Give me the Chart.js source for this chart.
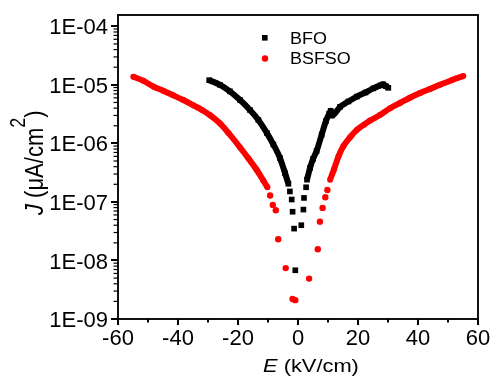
<!DOCTYPE html>
<html>
<head>
<meta charset="utf-8">
<script src="https://cdn.jsdelivr.net/npm/chart.js@4.4.1/dist/chart.umd.min.js"></script>
<style>
html,body{margin:0;padding:0;background:#fff;overflow:hidden;}
canvas{display:block;}
</style>
</head>
<body>
<canvas id="c" width="492" height="378" style="width:492px;height:378px"></canvas>
<script>
// ---- data (E in kV/cm, J in uA/cm^2) ----
// BFO: continuous branches
const bfoLeftE  = [-29.6, -26.0, -22.7, -19.3, -16.0, -13.2, -10.4, -8.2, -6.0, -4.3, -3.2];
const bfoLeftJ  = [1.20e-5, 1.0e-5, 7.76e-6, 5.5e-6, 3.72e-6, 2.51e-6, 1.51e-6, 9.55e-7, 5.62e-7, 3.09e-7, 2.04e-7];
const bfoRightE = [3.0, 4.0, 5.0, 6.2, 7.9, 9.3, 10.4, 10.9, 11.4, 14.0, 16.8, 19.6, 22.5, 25.1, 27.5, 28.4, 29.3, 30.1];
const bfoRightJ = [2.4e-7, 3.8e-7, 5.4e-7, 7.4e-7, 1.41e-6, 2.4e-6, 3.2e-6, 3.6e-6, 3.0e-6, 4.2e-6, 5.2e-6, 6.3e-6, 7.4e-6, 8.7e-6, 9.8e-6, 1.02e-5, 9.5e-6, 8.9e-6];
// BFO: isolated points near zero field
const bfoCenterE = [-2.7, -2.1, -1.8, -1.3, -0.9, 1.1, 1.8, 2.0, 2.7];
const bfoCenterJ = [1.51e-7, 1.10e-7, 6.8e-8, 3.5e-8, 6.8e-9, 4.0e-8, 7.4e-8, 1.17e-7, 1.78e-7];

// BSFSO: continuous branches
const bsLeftE  = [-54.9, -51.5, -48.2, -44.9, -41.6, -38.2, -34.9, -32.0, -29.3, -26.0, -23.2, -19.3, -16.5, -13.8, -11.6, -10.2];
const bsLeftJ  = [1.38e-5, 1.17e-5, 9.33e-6, 7.94e-6, 6.61e-6, 5.50e-6, 4.47e-6, 3.72e-6, 3.02e-6, 2.19e-6, 1.51e-6, 8.51e-7, 5.50e-7, 3.55e-7, 2.34e-7, 1.78e-7];
const bsRightE = [10.7, 12.0, 13.5, 15.1, 17.3, 19.6, 22.0, 24.0, 27.3, 30.7, 34.0, 37.3, 40.7, 44.0, 47.3, 51.2, 55.1];
const bsRightJ = [2.4e-7, 3.6e-7, 6.0e-7, 8.9e-7, 1.26e-6, 1.70e-6, 2.09e-6, 2.45e-6, 3.05e-6, 3.98e-6, 4.90e-6, 6.03e-6, 7.24e-6, 8.51e-6, 1.0e-5, 1.20e-5, 1.41e-5];
// BSFSO: isolated points near zero field
const bsCenterE = [-9.3, -8.4, -7.4, -6.6, -4.1, -1.8, -0.9, 3.7, 6.6, 7.3, 8.2, 9.1, 9.8];
const bsCenterJ = [1.29e-7, 8.9e-8, 7.2e-8, 2.3e-8, 7.4e-9, 2.2e-9, 2.1e-9, 4.9e-9, 1.55e-8, 4.6e-8, 7.9e-8, 1.2e-7, 1.6e-7];

// ---- axes ----
const xMin = -60, xMax = 60, xStep = 20;
const xMinorTicks = [-50, -30, -10, 10, 30, 50];
const yMin = 1e-9, yMax = 1.56e-4;
const yTickValues = [1e-9, 1e-8, 1e-7, 1e-6, 1e-5, 1e-4];
const yTickLabels = ['1E-09', '1E-08', '1E-07', '1E-06', '1E-05', '1E-04'];
const seriesNames = ['BFO', 'BSFSO'];

const pts = (xs, ys) => xs.map((v, i) => ({x: v, y: ys[i]}));
const FONT = 'Liberation Sans, Arial, sans-serif';

function band(xs, ys, color, style, r) {
  return {
    data: pts(xs, ys), showLine: true, borderColor: color, borderWidth: 6,
    cubicInterpolationMode: 'monotone',
    pointStyle: style, pointRadius: r, pointBackgroundColor: color, pointBorderWidth: 0
  };
}
function dots(xs, ys, color, style, r) {
  return {
    data: pts(xs, ys), showLine: false,
    pointStyle: style, pointRadius: r, pointBackgroundColor: color, pointBorderWidth: 0, borderColor: color
  };
}

// frame: black box behind a white chart area, drawn before the datasets
const frame = {
  id: 'frame',
  beforeDatasetsDraw(chart) {
    const ctx = chart.ctx, a = chart.chartArea;
    const L = Math.round(a.left), T = Math.round(a.top), R = Math.round(a.right), B = Math.round(a.bottom);
    ctx.save();
    ctx.fillStyle = '#111111';
    ctx.fillRect(L - 1, T - 1, R - L + 2, B - T + 2);
    ctx.fillStyle = '#ffffff';
    ctx.fillRect(L + 1, T + 1, R - L - 2, B - T - 2);
    ctx.restore();
  }
};

const decor = {
  id: 'decor',
  afterDraw(chart) {
    const ctx = chart.ctx, a = chart.chartArea, xs = chart.scales.x, ys = chart.scales.y;
    const L = Math.round(a.left), B = Math.round(a.bottom);
    ctx.save();
    ctx.fillStyle = '#000';
    // x ticks
    for (let v = xMin; v <= xMax; v += xStep) { const p = Math.round(xs.getPixelForValue(v)); ctx.fillRect(p - 1, B, 2, 6); }
    xMinorTicks.forEach(v => { const p = Math.round(xs.getPixelForValue(v)); ctx.fillRect(p - 1, B, 2, 3.5); });
    // y ticks
    yTickValues.forEach(v => { const p = Math.round(ys.getPixelForValue(v)); ctx.fillRect(L - 7, p - 1, 7, 2); });
    yTickValues.forEach(d => {
      for (let k = 2; k <= 9; k++) {
        const v = d * k; if (v > yMax) continue;
        const p = ys.getPixelForValue(v); ctx.fillRect(L - 4.5, p - 0.6, 4.5, 1.2);
      }
    });
    ctx.textBaseline = 'alphabetic';
    ctx.textAlign = 'left';
    // x title
    ctx.save();
    ctx.translate(263, 371.5);
    ctx.scale(1.15, 1);
    ctx.font = 'italic 19px ' + FONT;
    ctx.fillText('E', 0, 0);
    let w = ctx.measureText('E').width;
    ctx.font = '19px ' + FONT;
    ctx.fillText(' (kV/cm)', w, 0);
    ctx.restore();
    // y title
    ctx.save();
    ctx.translate(43, 215);
    ctx.rotate(-Math.PI / 2);
    ctx.scale(1, 1.2);
    ctx.font = 'italic 22px ' + FONT;
    ctx.fillText('J', 0, 0);
    let off = ctx.measureText('J').width;
    ctx.font = '22px ' + FONT;
    ctx.fillText(' (\u03BCA/cm', off, 0);
    off += ctx.measureText(' (\u03BCA/cm').width;
    ctx.font = '18px ' + FONT;
    ctx.fillText('2', off, -15);
    off += ctx.measureText('2').width;
    ctx.font = '22px ' + FONT;
    ctx.fillText(')', off, 0);
    ctx.restore();
    // legend
    ctx.fillStyle = '#000';
    ctx.fillRect(262, 35, 5.6, 5.6);
    ctx.fillStyle = '#ff0000';
    ctx.beginPath(); ctx.arc(265, 58.5, 3.2, 0, Math.PI * 2); ctx.fill();
    ctx.fillStyle = '#000';
    ctx.font = '16px ' + FONT;
    ctx.save(); ctx.translate(290, 44); ctx.scale(1.12, 1); ctx.fillText(seriesNames[0], 0, 0); ctx.restore();
    ctx.save(); ctx.translate(290, 64.3); ctx.scale(1.12, 1); ctx.fillText(seriesNames[1], 0, 0); ctx.restore();
    ctx.restore();
  }
};

new Chart(document.getElementById('c'), {
  type: 'scatter',
  data: {
    datasets: [
      band(bsLeftE, bsLeftJ, '#ff0000', 'circle', 3),
      band(bsRightE, bsRightJ, '#ff0000', 'circle', 3),
      dots(bsCenterE, bsCenterJ, '#ff0000', 'circle', 3.2),
      band(bfoLeftE, bfoLeftJ, '#000000', 'rect', 4),
      band(bfoRightE, bfoRightJ, '#000000', 'rect', 4),
      dots(bfoCenterE, bfoCenterJ, '#000000', 'rect', 4)
    ]
  },
  plugins: [frame, decor],
  options: {
    responsive: false,
    devicePixelRatio: 1,
    animation: false,
    layout: {padding: {top: 15, right: 14, left: 0, bottom: 0}},
    plugins: {legend: {display: false}, tooltip: {enabled: false}},
    scales: {
      x: {
        type: 'linear', position: 'bottom', min: xMin, max: xMax,
        grid: {display: false, drawTicks: false}, border: {display: false},
        ticks: {stepSize: xStep, maxRotation: 0, autoSkip: false, padding: 7, color: '#000', font: {family: FONT, size: 22}},
        afterFit: s => { s.height = 59; s.paddingLeft = 0; s.paddingRight = 0; }
      },
      y: {
        type: 'logarithmic', position: 'left', min: yMin, max: yMax,
        grid: {display: false, drawTicks: false}, border: {display: false},
        ticks: {autoSkip: false, padding: 10, labelOffset: 2, color: '#000', font: {family: FONT, size: 22},
          callback: (v, i) => yTickLabels[i]},
        afterBuildTicks: s => { s.ticks = yTickValues.map(v => ({value: v})); },
        afterFit: s => { s.width = 118; s.paddingTop = 0; s.paddingBottom = 0; }
      }
    }
  }
});
</script>
</body>
</html>
